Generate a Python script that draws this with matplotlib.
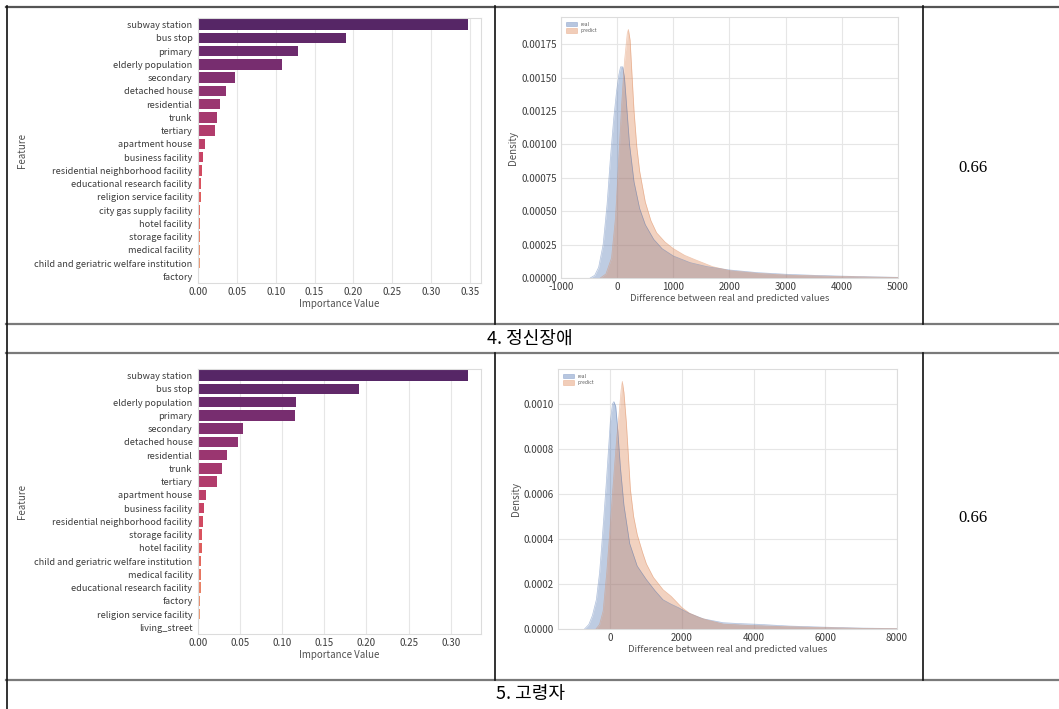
import numpy as np
import matplotlib.pyplot as plt
import seaborn as sns
from matplotlib.lines import Line2D
from matplotlib.patches import Patch
from matplotlib.ticker import FormatStrFormatter

plt.rcParams['font.family'] = ['Noto Sans CJK KR', 'DejaVu Sans']
plt.rcParams['axes.unicode_minus'] = False

W, H = 1059, 709

# 4. 정신장애 - feature importance
features_4 = ["subway station", "bus stop", "primary", "elderly population", "secondary",
              "detached house", "residential", "trunk", "tertiary", "apartment house",
              "business facility", "residential neighborhood facility",
              "educational research facility", "religion service facility",
              "city gas supply facility", "hotel facility", "storage facility",
              "medical facility", "child and geriatric welfare institution", "factory"]
importance_4 = [0.347, 0.190, 0.129, 0.108, 0.048, 0.036, 0.028, 0.025, 0.022, 0.009,
                0.006, 0.0056, 0.0043, 0.0035, 0.003, 0.003, 0.0028, 0.0025, 0.0022, 0.0015]

# 5. 고령자 - feature importance
features_5 = ["subway station", "bus stop", "elderly population", "primary", "secondary",
              "detached house", "residential", "trunk", "tertiary", "apartment house",
              "business facility", "residential neighborhood facility", "storage facility",
              "hotel facility", "child and geriatric welfare institution", "medical facility",
              "educational research facility", "factory", "religion service facility",
              "living_street"]
importance_5 = [0.320, 0.191, 0.116, 0.115, 0.053, 0.048, 0.034, 0.029, 0.022, 0.010,
                0.007, 0.006, 0.0048, 0.0045, 0.004, 0.0036, 0.0032, 0.0028, 0.0022, 0.0014]

# 4. 정신장애 - density of differences
real_x_4 = [-480, -400, -330, -250, -180, -120, -60, -10, 30, 60, 100, 130, 170, 220, 300,
            400, 500, 650, 800, 1000, 1300, 1600, 2000, 2500, 3000, 3500, 4000, 4500, 5000]
real_y_4 = [0, 0.02, 0.08, 0.25, 0.55, 0.90, 1.20, 1.40, 1.52, 1.58, 1.58, 1.50, 1.28, 1.00,
            0.72, 0.52, 0.40, 0.29, 0.22, 0.165, 0.115, 0.085, 0.06, 0.04, 0.028, 0.02,
            0.014, 0.009, 0.005]
pred_x_4 = [-300, -200, -100, -30, 30, 80, 130, 180, 200, 230, 260, 300, 350, 400, 500, 600,
            700, 850, 1000, 1200, 1400, 1550, 1700, 2000, 2500, 3000, 3500, 4000, 4500, 5000]
pred_y_4 = [0, 0.03, 0.15, 0.45, 0.90, 1.30, 1.62, 1.83, 1.86, 1.78, 1.55, 1.25, 0.98, 0.80,
            0.57, 0.43, 0.34, 0.27, 0.22, 0.17, 0.135, 0.11, 0.085, 0.055, 0.035, 0.022,
            0.016, 0.011, 0.007, 0.004]

# 5. 고령자 - density of differences
real_x_5 = [-720, -600, -500, -390, -300, -250, -180, -112, -50, 0, 60, 100, 150, 200, 280,
            380, 540, 750, 1005, 1250, 1470, 1700, 1900, 2200, 2600, 3150, 3600, 4100, 5000,
            6000, 7000, 8000]
real_y_5 = [0, 0.02, 0.06, 0.13, 0.25, 0.35, 0.50, 0.65, 0.80, 0.92, 1.00, 1.01, 0.99, 0.90,
            0.72, 0.55, 0.38, 0.28, 0.22, 0.17, 0.13, 0.11, 0.095, 0.07, 0.045, 0.028, 0.024,
            0.021, 0.013, 0.008, 0.004, 0.002]
pred_x_5 = [-400, -300, -200, -100, -20, 60, 121, 180, 242, 300, 335, 380, 446, 500, 560, 650,
            750, 900, 1005, 1200, 1470, 1700, 1850, 2000, 2214, 2500, 2700, 3144, 3600, 4000,
            5000, 6000, 7000, 8000]
pred_y_5 = [0, 0.02, 0.08, 0.25, 0.42, 0.60, 0.73, 0.85, 0.95, 1.06, 1.10, 1.05, 0.92, 0.78,
            0.62, 0.50, 0.42, 0.34, 0.29, 0.23, 0.175, 0.145, 0.12, 0.095, 0.07, 0.05, 0.04,
            0.022, 0.018, 0.015, 0.01, 0.006, 0.003, 0.001]

r2_scores = ["0.66", "0.66"]
captions = ["4. 정신장애", "5. 고령자"]

BLUE = "#4c72b0"
ORANGE = "#dd8452"
TXT = "#3c3c3c"
GRID = "#e6e6e6"
SPINE = "#dcdcdc"


def px_axes(fig, left, top, right, bottom):
    return fig.add_axes([left / W, 1 - bottom / H, (right - left) / W, (bottom - top) / H])


def style_axes(ax):
    for s in ax.spines.values():
        s.set_color(SPINE)
        s.set_linewidth(0.8)
    ax.tick_params(length=0, labelsize=7, labelcolor=TXT, pad=3)
    ax.set_axisbelow(True)


def draw_importance(ax, features, values):
    colors = sns.color_palette("flare_r", len(features))
    pos = np.arange(len(features))
    ax.barh(pos, values, height=0.8, color=colors)
    ax.set_yticks(pos)
    ax.set_yticklabels(features)
    ax.set_ylim(len(features) - 0.5, -0.5)
    right = max(values) * 1.05
    ax.set_xlim(0, right)
    ax.set_xticks(np.arange(0, right, 0.05))
    ax.xaxis.set_major_formatter(FormatStrFormatter('%.2f'))
    ax.xaxis.grid(True, color=GRID, lw=0.8)
    style_axes(ax)
    ax.tick_params(axis='y', labelsize=6.6, pad=4)
    ax.set_xlabel("Importance Value", fontsize=7, color="#505050", labelpad=1)
    ax.set_ylabel("Feature", fontsize=7, color="#505050", labelpad=5)


def draw_kde(ax, xr, yr, xp, yp, xlim, yticks, fmt):
    yr = np.array(yr) * 1e-3
    yp = np.array(yp) * 1e-3
    ax.fill_between(xr, yr, color=BLUE, alpha=0.36, lw=0)
    ax.plot(xr, yr, color=BLUE, lw=0.5, alpha=0.45)
    ax.fill_between(xp, yp, color=ORANGE, alpha=0.36, lw=0)
    ax.plot(xp, yp, color=ORANGE, lw=0.5, alpha=0.45)
    ax.set_xlim(*xlim)
    ax.set_ylim(0, max(yr.max(), yp.max()) * 1.05)
    ax.set_yticks(yticks)
    ax.yaxis.set_major_formatter(FormatStrFormatter(fmt))
    ax.grid(True, color=GRID, lw=0.8)
    style_axes(ax)
    ax.set_xlabel("Difference between real and predicted values", fontsize=6.8,
                  color="#505050", labelpad=1)
    ax.set_ylabel("Density", fontsize=7, color="#505050", labelpad=2)
    handles = [Patch(facecolor=BLUE, alpha=0.4, edgecolor=BLUE, lw=0.5),
               Patch(facecolor=ORANGE, alpha=0.4, edgecolor=ORANGE, lw=0.5)]
    ax.legend(handles, ["real", "predict"], loc="upper left", fontsize=3.5, frameon=False,
              handlelength=2.2, handleheight=1.0, borderaxespad=0.6, labelspacing=0.3,
              labelcolor="#555555")


fig = plt.figure(figsize=(W / 100, H / 100), dpi=100)

ax1 = px_axes(fig, 198, 18, 481, 283)
draw_importance(ax1, features_4, importance_4)
ax2 = px_axes(fig, 561, 17, 898, 278)
draw_kde(ax2, real_x_4, real_y_4, pred_x_4, pred_y_4, (-1000, 5000),
         np.arange(0, 0.0018, 0.00025), '%.5f')

ax3 = px_axes(fig, 198, 369, 481, 634)
draw_importance(ax3, features_5, importance_5)
ax4 = px_axes(fig, 558, 369, 897, 629)
draw_kde(ax4, real_x_5, real_y_5, pred_x_5, pred_y_5, (-1460, 8000),
         np.arange(0, 0.00101, 0.0002), '%.4f')
ax4.set_xticks([0, 2000, 4000, 6000, 8000])

# table frame
def hline(y, x0=6, x1=W, color="#7a7a7a", lw=1.6):
    fig.add_artist(Line2D([x0 / W, x1 / W], [1 - y / H, 1 - y / H],
                          transform=fig.transFigure, color=color, lw=lw))


def vline(x, y0, y1, color="#111111", lw=1.2):
    fig.add_artist(Line2D([x / W, x / W], [1 - y0 / H, 1 - y1 / H],
                          transform=fig.transFigure, color=color, lw=lw))


hline(6.5, color="#555555")
for y in [324, 353, 680]:
    hline(y)
vline(6.5, 6, H)
for x in [495, 923]:
    vline(x, 6, 324)
    vline(x, 353, 680)

for y, score in zip([168, 518], r2_scores):
    fig.text(973 / W, 1 - y / H, score, ha="center", va="center", fontsize=12,
             family=["Liberation Serif", "DejaVu Serif"])
for y, cap in zip([338.5, 694], captions):
    fig.text(530 / W, 1 - y / H, cap, ha="center", va="center", fontsize=13,
             family=["Noto Sans CJK KR", "DejaVu Sans"])

fig.savefig("out.png", dpi=100)
